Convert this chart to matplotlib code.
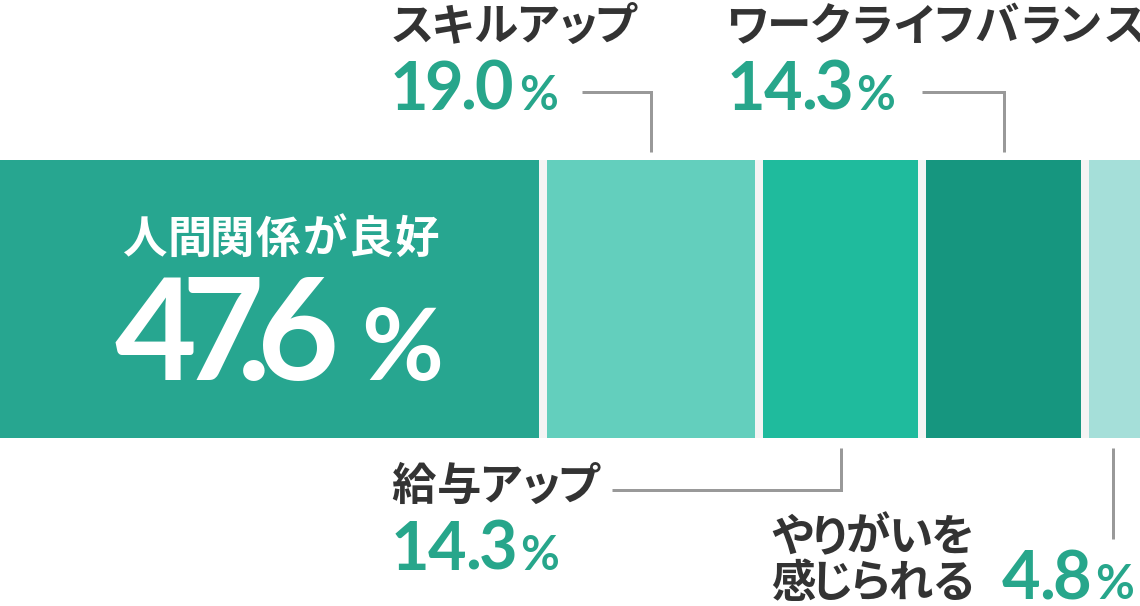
import numpy as np
import matplotlib
matplotlib.use('Agg')
import matplotlib.pyplot as plt
from matplotlib.textpath import TextPath
from matplotlib.font_manager import FontProperties

# canvas in pixels
W, H = 1140, 606

labels = ['人間関係が良好', 'スキルアップ', '給与アップ', 'ワークライフバランス', 'やりがいを\n感じられる']
values = [47.6, 19.0, 14.3, 14.3, 4.8]
colors = ['#27a690', '#63cfbd', '#1fbb9d', '#16967f', '#a5dfd9']

JP = ['Noto Sans CJK JP', 'DejaVu Sans']
NUM = ['Lato', 'DejaVu Sans']
DARK = '#333333'
GREEN = '#27a68b'
LINE = '#999999'

fig = plt.figure(figsize=(W / 100, H / 100), dpi=100)

# the stacked bar, x in percent, y in pixel rows
ax = fig.add_axes([0, 0, 1, 1])
ax.set_xlim(0, 100)
ax.set_ylim(H, 0)
ax.axis('off')
lefts = np.concatenate([[0], np.cumsum(values)[:-1]])
ax.barh(299, values, left=lefts, height=278, color=colors)
ax.vlines(lefts[1:], 160, 438, color='#f4f4f4', lw=8 * 72 / 100)

# overlay in pixels for labels and leader lines
tx = fig.add_axes([0, 0, 1, 1])
tx.set_xlim(0, W)
tx.set_ylim(H, 0)
tx.axis('off')

centers = (lefts + np.array(values) / 2) / 100 * W


def ink(ch, size, family):
    # horizontal ink extent of one glyph, in pixels from its origin
    fp = FontProperties(family=family, weight='bold')
    e = TextPath((0, 0), ch, size=size * 100 / 72, prop=fp).get_extents()
    return e.x0, e.x1


def spaced(x, y, s, size, color, family, gaps):
    # x is where the ink starts; gaps are ink-to-ink distances
    if np.isscalar(gaps):
        gaps = [gaps] * len(s)
    right = x
    for i, ch in enumerate(s):
        x0, x1 = ink(ch, size, family)
        start = x if i == 0 else right + gaps[i - 1]
        tx.text(start - x0, y, ch, fontsize=size, color=color, family=family,
                fontweight='bold', ha='left', va='baseline')
        right = start + (x1 - x0)
    return right


def pct(x, y, v, size, psize, color, gaps, pgap):
    end = spaced(x, y, f'{v:.1f}', size, color, NUM, gaps)
    spaced(end + pgap, y, '%', psize, color, NUM, 0)


def leader(xs, ys):
    tx.plot(xs, ys, color=LINE, lw=3 * 72 / 100, solid_joinstyle='miter',
            solid_capstyle='butt')


# 人間関係が良好
spaced(123, 253, labels[0], 32, 'white', JP, 5)
pct(115, 380, values[0], 102, 72, 'white', [-5, -16, -1], 30)

# スキルアップ
spaced(393, 40, labels[1], 32, DARK, JP, 4)
pct(394, 110, values[1], 48, 34, GREEN, 3, 10)
leader([582, centers[1], centers[1]], [92, 92, 152])

# 給与アップ
spaced(392, 500, labels[2], 32, DARK, JP, 4)
pct(395, 570, values[2], 48, 34, GREEN, 3, 8)
leader([centers[2], centers[2], 612], [448, 490, 490])

# ワークライフバランス
spaced(730, 40, labels[3], 32, DARK, JP, 5.5)
pct(731, 110, values[3], 48, 34, GREEN, 3, 8)
leader([922, centers[3], centers[3]], [92, 92, 152])

# やりがいを感じられる
for i, line in enumerate(labels[4].split('\n')):
    spaced(772, 551 + 46 * i, line, 32, DARK, JP, 4)
pct(1002, 599, values[4], 48, 34, GREEN, 3, 9)
leader([centers[4], centers[4]], [448, 539])

fig.savefig('out.png', dpi=100)
